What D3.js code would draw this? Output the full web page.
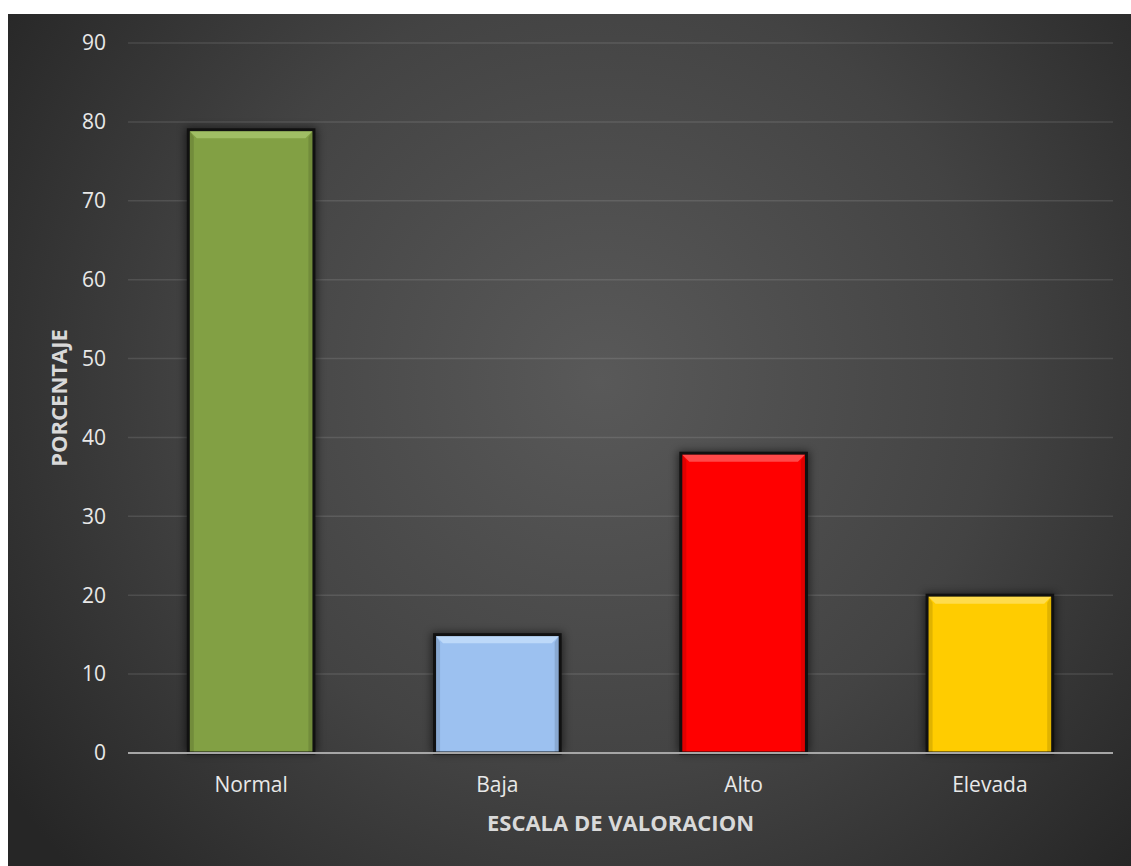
<!DOCTYPE html>
<html>
<head>
<meta charset="utf-8">
<script src="https://cdn.jsdelivr.net/npm/d3@7"></script>
<style>
  html, body { margin: 0; padding: 0; background: #ffffff; }
  svg { display: block; }
</style>
</head>
<body>
<svg id="chart" width="1131" height="866"></svg>
<script>
const categories = ["Normal", "Baja", "Alto", "Elevada"];
const values = [79, 15, 38, 20];
const barColors = ["#82a044", "#9cc1f0", "#ff0000", "#ffcc00"];
const highlightColors = ["#b4d27a", "#d4e9ff", "#ff7a7a", "#ffe680"];
const yTicks = [0, 10, 20, 30, 40, 50, 60, 70, 80, 90];
const yTitle = "PORCENTAJE";
const xTitle = "ESCALA DE VALORACION";

const svg = d3.select("#chart");
const W = 1131, H = 866;
const bg = { x: 8, y: 14, w: W - 8, h: H - 14 };
const plot = { left: 128, right: 1113, top: 43, bottom: 753 };

const defs = svg.append("defs");
const rg = defs.append("radialGradient").attr("id", "bgGrad")
  .attr("gradientUnits", "userSpaceOnUse")
  .attr("cx", 600).attr("cy", 380).attr("r", 720);
rg.append("stop").attr("offset", "0%").attr("stop-color", "#595959");
rg.append("stop").attr("offset", "55%").attr("stop-color", "#434343");
rg.append("stop").attr("offset", "100%").attr("stop-color", "#262626");

const shadow = defs.append("filter").attr("id", "shadow")
  .attr("x", "-20%").attr("y", "-20%").attr("width", "140%").attr("height", "140%");
shadow.append("feGaussianBlur").attr("stdDeviation", 4);

svg.append("rect").attr("x", bg.x).attr("y", bg.y)
  .attr("width", bg.w).attr("height", bg.h).attr("fill", "url(#bgGrad)");

const x = d3.scaleBand().domain(categories)
  .range([plot.left, plot.right]).paddingInner(0.49).paddingOuter(0.245);
const y = d3.scaleLinear().domain([0, 90]).range([plot.bottom, plot.top]);

// gridlines
svg.append("g").selectAll("line").data(yTicks.filter(d => d > 0)).join("line")
  .attr("x1", plot.left).attr("x2", plot.right)
  .attr("y1", d => y(d)).attr("y2", d => y(d))
  .attr("stroke", "rgba(255,255,255,0.11)").attr("stroke-width", 1.5);

// y tick labels
svg.append("g").selectAll("text").data(yTicks).join("text")
  .attr("x", 106).attr("y", d => y(d)).attr("dy", "0.35em")
  .attr("text-anchor", "end")
  .attr("font-family", "'Open Sans', sans-serif").attr("font-size", 21)
  .attr("fill", "#e8e8e8").text(d => d);

const data = categories.map((c, i) => ({ c, v: values[i], i }));
const bars = svg.append("g");
// shadows
bars.selectAll("rect.sh").data(data).join("rect").attr("class", "sh")
  .attr("x", d => x(d.c) - 3).attr("y", d => y(d.v) - 2)
  .attr("width", x.bandwidth() + 6).attr("height", d => y(0) - y(d.v) + 2)
  .attr("fill", "#000").attr("opacity", 0.55).attr("filter", "url(#shadow)");
// bar bodies
bars.selectAll("rect.bar").data(data).join("rect").attr("class", "bar")
  .attr("x", d => x(d.c)).attr("y", d => y(d.v))
  .attr("width", x.bandwidth()).attr("height", d => y(0) - y(d.v))
  .attr("fill", d => barColors[d.i])
  .attr("stroke", "#111").attr("stroke-width", 3);
// top bevel highlight
bars.selectAll("path.bev").data(data).join("path").attr("class", "bev")
  .attr("d", d => {
    const x0 = x(d.c) + 1.5, x1 = x(d.c) + x.bandwidth() - 1.5, t = y(d.v) + 1.5;
    return `M${x0},${t}L${x1},${t}L${x1 - 7},${t + 7}L${x0 + 7},${t + 7}Z`;
  })
  .attr("fill", d => highlightColors[d.i]).attr("opacity", 0.6);
bars.selectAll("path.bevs").data(data).join("path").attr("class", "bevs")
  .attr("d", d => {
    const x0 = x(d.c) + 1.5, x1 = x(d.c) + x.bandwidth() - 1.5, t = y(d.v) + 1.5, b = y(0);
    return `M${x0},${t}L${x0 + 4},${t + 6}L${x0 + 4},${b}L${x0},${b}Z M${x1},${t}L${x1 - 4},${t + 6}L${x1 - 4},${b}L${x1},${b}Z`;
  })
  .attr("fill", "#000").attr("opacity", 0.12);

// x axis line
svg.append("line").attr("x1", plot.left).attr("x2", plot.right)
  .attr("y1", y(0)).attr("y2", y(0))
  .attr("stroke", "#a6a6a6").attr("stroke-width", 2);

// x labels
svg.append("g").selectAll("text").data(categories).join("text")
  .attr("x", d => x(d) + x.bandwidth() / 2).attr("y", 785).attr("dy", "0.35em")
  .attr("text-anchor", "middle")
  .attr("font-family", "'Open Sans', sans-serif").attr("font-size", 21)
  .attr("fill", "#e8e8e8").text(d => d);

// axis titles
svg.append("text").attr("x", (plot.left + plot.right) / 2).attr("y", 823).attr("dy", "0.35em")
  .attr("text-anchor", "middle")
  .attr("font-family", "'Open Sans', sans-serif").attr("font-size", 22).attr("font-weight", "bold")
  .attr("fill", "#d9d9d9").text(xTitle);

svg.append("text").attr("transform", `translate(59,398) rotate(-90)`).attr("dy", "0.35em")
  .attr("text-anchor", "middle")
  .attr("font-family", "'Open Sans', sans-serif").attr("font-size", 22).attr("font-weight", "bold")
  .attr("fill", "#d9d9d9").text(yTitle);
</script>
</body>
</html>
